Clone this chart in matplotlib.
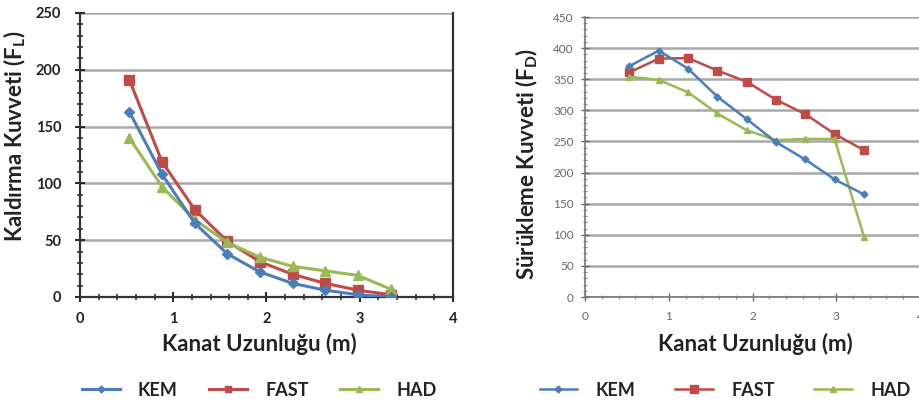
import matplotlib
matplotlib.use("Agg")
import matplotlib.pyplot as plt
from matplotlib.ticker import MultipleLocator

plt.rcParams['font.family'] = ['Lato', 'DejaVu Sans']
plt.rcParams['mathtext.fontset'] = 'custom'
plt.rcParams['mathtext.bf'] = 'Lato:bold'
plt.rcParams['mathtext.rm'] = 'Lato:bold'
plt.rcParams['mathtext.it'] = 'Lato:bold'
plt.rcParams['mathtext.default'] = 'bf'

# ---- data ----
wing_length = [0.53, 0.88, 1.23, 1.58, 1.93, 2.28, 2.63, 2.98, 3.33]
series_names = ["KEM", "FAST", "HAD"]

lift_kem = [163, 108, 65, 38, 22, 12, 6, 2, 0]
lift_fast = [191, 119, 77, 49, 31, 20, 12, 6, 2]
lift_had = [140, 97, 68, 48, 35, 27, 23, 19, 7]

drag_kem = [371, 396, 367, 322, 286, 249, 221, 189, 165]
drag_fast = [361, 383, 384, 364, 346, 317, 294, 262, 236]
drag_had = [354, 349, 329, 295, 268, 252, 254, 254, 97]

x_ticks = [0, 1, 2, 3, 4]
lift_ticks = [0, 50, 100, 150, 200, 250]
drag_ticks = [0, 50, 100, 150, 200, 250, 300, 350, 400, 450]

colors = ["#4a7ebb", "#be4b48", "#98b954"]
grid_c = "#a8a8a8"

W, H = 920, 409
fig = plt.figure(figsize=(W / 100, H / 100), dpi=100)

axL = fig.add_axes([80 / W, (H - 297) / H, 373 / W, 284 / H])
axR = fig.add_axes([585 / W, (H - 297) / H, 335 / W, 280 / H])

# ---- left chart ----
lw = 2.2
axL.plot(wing_length, lift_kem, color=colors[0], lw=lw, marker='D', ms=5, label=series_names[0], zorder=4)
axL.plot(wing_length, lift_fast, color=colors[1], lw=lw, marker='s', ms=7, label=series_names[1], zorder=3)
axL.plot(wing_length, lift_had, color=colors[2], lw=lw, marker='^', ms=7, label=series_names[2], zorder=3)
axL.set_xlim(0, 4)
axL.set_ylim(0, 250)
axL.set_xticks(x_ticks)
axL.set_yticks(lift_ticks)
axL.xaxis.set_minor_locator(MultipleLocator(0.2))
axL.yaxis.set_minor_locator(MultipleLocator(10))
axL.yaxis.grid(True, color=grid_c, lw=1.8)
axL.set_axisbelow(True)
for s in ['left', 'bottom', 'right']:
    axL.spines[s].set_color('#333333')
    axL.spines[s].set_linewidth(1.6)
axL.spines['top'].set_visible(False)
axL.tick_params(axis='both', which='major', direction='inout', length=7, width=1.4,
                labelsize=10.5, pad=10, colors='#222222')
axL.tick_params(axis='x', which='major', pad=7)
axL.tick_params(axis='both', which='minor', direction='inout', length=4, width=1.2, colors='#333333')
for lab in axL.get_xticklabels() + axL.get_yticklabels():
    lab.set_fontweight('bold')
axL.set_xlabel("Kanat Uzunluğu (m)", fontsize=16, fontweight='bold', color='#222222')
axL.set_ylabel(r"Kaldırma Kuvveti (F$_{L}$)", fontsize=16, fontweight='bold', color='#222222')
axL.xaxis.set_label_coords(0.48, -0.125)
axL.yaxis.set_label_coords(-0.14, 0.567)

# ---- right chart ----
axR.plot(wing_length, drag_kem, color=colors[0], lw=1.8, marker='D', ms=3.5, label=series_names[0], zorder=4)
axR.plot(wing_length, drag_fast, color=colors[1], lw=1.8, marker='s', ms=6, label=series_names[1], zorder=3)
axR.plot(wing_length, drag_had, color=colors[2], lw=1.8, marker='^', ms=4.5, label=series_names[2], zorder=3)
axR.set_xlim(0, 4)
axR.set_ylim(0, 450)
axR.set_xticks(x_ticks)
axR.set_yticks(drag_ticks)
axR.xaxis.set_minor_locator(MultipleLocator(0.2))
axR.yaxis.set_minor_locator(MultipleLocator(10))
axR.yaxis.grid(True, color=grid_c, lw=1.8)
axR.set_axisbelow(True)
for s in ['top', 'right']:
    axR.spines[s].set_visible(False)
for s in ['left', 'bottom']:
    axR.spines[s].set_color('#777777')
    axR.spines[s].set_linewidth(1.2)
axR.tick_params(axis='both', which='major', direction='inout', length=6, width=1.0,
                labelsize=8.5, pad=5, colors='#666666')
axR.tick_params(axis='x', which='major', pad=7)
axR.tick_params(axis='both', which='minor', direction='inout', length=3, width=0.8, colors='#888888')
axR.set_xlabel("Kanat Uzunluğu (m)", fontsize=16, fontweight='bold', color='#222222')
axR.set_ylabel(r"Sürükleme Kuvveti (F$_{D}$)", fontsize=16, fontweight='bold', color='#222222')
axR.xaxis.set_label_coords(0.51, -0.13)
axR.yaxis.set_label_coords(-0.134, 0.475)

# ---- legends ----
legL = axL.legend(loc='center', bbox_to_anchor=(259 / W, (H - 390) / H), bbox_transform=fig.transFigure,
                  ncol=3, frameon=False, handlelength=2.1, handletextpad=1.0, columnspacing=1.75,
                  markerscale=0.7, prop={'weight': 'bold', 'size': 13})
legR = axR.legend(loc='center', bbox_to_anchor=(725 / W, (H - 390) / H), bbox_transform=fig.transFigure,
                  ncol=3, frameon=False, handlelength=2.1, handletextpad=1.0, columnspacing=2.2,
                  prop={'weight': 'bold', 'size': 13})
for leg in (legL, legR):
    for t in leg.get_texts():
        t.set_color('#222222')

fig.savefig("out.png", dpi=100)
